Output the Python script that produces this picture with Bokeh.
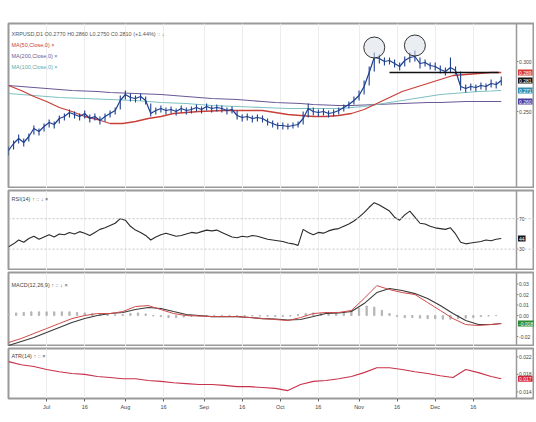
from bokeh.plotting import figure
from bokeh.layouts import column
from bokeh.models import Range1d, FixedTicker, Label, Span
from bokeh.core.properties import value
from bokeh.embed import file_html
from bokeh.resources import INLINE

# ---------------- data ----------------
bar_days = list(range(0, 196, 2))
close = [0.211, 0.218, 0.223, 0.219, 0.225, 0.233, 0.230, 0.235, 0.239, 0.237,
         0.243, 0.245, 0.249, 0.247, 0.245, 0.248, 0.243, 0.245, 0.241, 0.245,
         0.248, 0.251, 0.261, 0.267, 0.264, 0.263, 0.265, 0.261, 0.248, 0.251,
         0.253, 0.251, 0.252, 0.250, 0.253, 0.251, 0.252, 0.254, 0.252, 0.255,
         0.253, 0.254, 0.253, 0.251, 0.252, 0.246, 0.244, 0.245, 0.243, 0.244,
         0.243, 0.240, 0.238, 0.236, 0.236, 0.235, 0.236, 0.237, 0.243, 0.253,
         0.250, 0.249, 0.250, 0.248, 0.249, 0.251, 0.254, 0.257, 0.261, 0.266,
         0.275, 0.289, 0.304, 0.303, 0.300, 0.301, 0.298, 0.295, 0.301, 0.304,
         0.305, 0.298, 0.299, 0.296, 0.295, 0.292, 0.290, 0.294, 0.291, 0.275,
         0.273, 0.275, 0.274, 0.276, 0.275, 0.278, 0.277, 0.281]
high = [0.215, 0.221, 0.227, 0.223, 0.228, 0.236, 0.233, 0.238, 0.242, 0.240,
        0.246, 0.248, 0.252, 0.250, 0.248, 0.251, 0.247, 0.248, 0.245, 0.248,
        0.251, 0.254, 0.266, 0.271, 0.268, 0.266, 0.268, 0.265, 0.258, 0.254,
        0.256, 0.254, 0.255, 0.253, 0.256, 0.254, 0.255, 0.257, 0.255, 0.258,
        0.256, 0.257, 0.256, 0.254, 0.255, 0.251, 0.247, 0.248, 0.246, 0.247,
        0.246, 0.243, 0.241, 0.239, 0.239, 0.238, 0.239, 0.240, 0.250, 0.258,
        0.254, 0.252, 0.253, 0.251, 0.252, 0.254, 0.257, 0.260, 0.265, 0.271,
        0.281, 0.295, 0.309, 0.307, 0.304, 0.304, 0.302, 0.299, 0.305, 0.309,
        0.311, 0.304, 0.302, 0.299, 0.299, 0.296, 0.294, 0.304, 0.295, 0.290,
        0.277, 0.278, 0.277, 0.279, 0.278, 0.282, 0.280, 0.285]
low = [0.206, 0.212, 0.218, 0.215, 0.220, 0.227, 0.226, 0.230, 0.234, 0.233,
       0.238, 0.241, 0.244, 0.243, 0.241, 0.243, 0.239, 0.241, 0.237, 0.240,
       0.244, 0.247, 0.252, 0.262, 0.260, 0.259, 0.261, 0.257, 0.245, 0.247,
       0.249, 0.247, 0.248, 0.246, 0.249, 0.247, 0.248, 0.250, 0.248, 0.251,
       0.249, 0.250, 0.249, 0.247, 0.248, 0.242, 0.240, 0.241, 0.239, 0.240,
       0.239, 0.236, 0.234, 0.232, 0.232, 0.232, 0.233, 0.234, 0.237, 0.244,
       0.246, 0.245, 0.246, 0.244, 0.245, 0.247, 0.250, 0.253, 0.257, 0.261,
       0.267, 0.276, 0.290, 0.298, 0.296, 0.297, 0.294, 0.291, 0.295, 0.299,
       0.300, 0.293, 0.295, 0.292, 0.291, 0.288, 0.286, 0.289, 0.287, 0.271,
       0.269, 0.271, 0.270, 0.272, 0.271, 0.274, 0.273, 0.276]

ind_days = list(range(0, 191, 5)) + [194]
ma50 = [0.276, 0.271, 0.265, 0.260, 0.254, 0.250, 0.245, 0.242, 0.238, 0.238,
        0.240, 0.243, 0.245, 0.248, 0.249, 0.250, 0.2505, 0.251, 0.251, 0.251,
        0.251, 0.249, 0.247, 0.246, 0.245, 0.245, 0.246, 0.248, 0.252, 0.258,
        0.264, 0.270, 0.274, 0.278, 0.282, 0.286, 0.287, 0.288, 0.289, 0.289]
ma200 = [0.276, 0.275, 0.274, 0.273, 0.272, 0.271, 0.2705, 0.270, 0.269, 0.2685,
         0.268, 0.2675, 0.267, 0.266, 0.265, 0.264, 0.263, 0.2625, 0.262, 0.261,
         0.260, 0.259, 0.2585, 0.258, 0.257, 0.2565, 0.256, 0.256, 0.2565, 0.257,
         0.2575, 0.258, 0.2585, 0.259, 0.259, 0.2595, 0.260, 0.260, 0.260, 0.260]
ma100 = [0.268, 0.267, 0.266, 0.265, 0.264, 0.2635, 0.263, 0.2625, 0.262, 0.2615,
         0.261, 0.260, 0.259, 0.2585, 0.258, 0.257, 0.256, 0.2555, 0.255, 0.2545,
         0.254, 0.2535, 0.253, 0.253, 0.253, 0.253, 0.253, 0.254, 0.255, 0.257,
         0.259, 0.261, 0.263, 0.265, 0.267, 0.268, 0.269, 0.270, 0.2705, 0.271]

rsi = [33, 37, 42, 39, 44, 47, 43, 46, 49, 46,
       50, 49, 52, 50, 53, 51, 48, 52, 56, 58,
       61, 64, 70, 68, 60, 55, 52, 48, 42, 46,
       49, 51, 49, 47, 48, 50, 52, 51, 53, 55,
       54, 55, 52, 49, 46, 45, 47, 46, 48, 47,
       45, 43, 42, 41, 40, 38, 37, 35, 56, 52,
       49, 52, 51, 54, 56, 57, 60, 63, 67, 72,
       78, 85, 91, 88, 84, 80, 72, 68, 75, 80,
       72, 64, 63, 60, 58, 57, 56, 58, 50, 39,
       37, 38, 39, 40, 42, 41, 43, 44]

macd = [-0.0257, -0.0219, -0.0171, -0.0124, -0.0076, -0.0029, 0.0000, 0.0019, 0.0019, 0.0038,
        0.0086, 0.0095, 0.0057, 0.0019, 0.0000, -0.0005, -0.0010, -0.0010, -0.0010, -0.0019,
        -0.0029, -0.0038, -0.0048, -0.0019, 0.0019, 0.0029, 0.0029, 0.0048, 0.0162, 0.0285,
        0.0247, 0.0219, 0.0200, 0.0124, 0.0048, -0.0029, -0.0086, -0.0095, -0.0086, -0.0076]
signal = [-0.0285, -0.0247, -0.0209, -0.0162, -0.0114, -0.0067, -0.0029, 0.0000, 0.0019, 0.0029,
          0.0057, 0.0076, 0.0067, 0.0038, 0.0010, 0.0000, -0.0010, -0.0010, -0.0010, -0.0019,
          -0.0029, -0.0033, -0.0043, -0.0038, -0.0010, 0.0019, 0.0024, 0.0038, 0.0114, 0.0219,
          0.0257, 0.0238, 0.0209, 0.0162, 0.0095, 0.0019, -0.0048, -0.0086, -0.0086, -0.0076]
hist_days = list(range(0, 193, 3))
hist = [0.0020, 0.0025, 0.0030, 0.0035, 0.0035, 0.0035, 0.0035, 0.0035, 0.0035, 0.0030,
        0.0025, 0.0020, 0.0015, 0.0010, 0.0008, 0.0010, 0.0020, 0.0025, 0.0015, -0.0005,
        -0.0010, -0.0020, -0.0020, -0.0015, -0.0010, -0.0005, -0.0003, 0.0002, 0.0003, 0.0002,
        -0.0003, -0.0004, -0.0005, -0.0005, -0.0006, -0.0008, -0.0008, -0.0006, 0.0010, 0.0020,
        0.0025, 0.0020, 0.0015, 0.0020, 0.0030, 0.0050, 0.0070, 0.0090, 0.0080, 0.0050,
        0.0020, -0.0010, -0.0020, -0.0020, -0.0025, -0.0030, -0.0030, -0.0035, -0.0035, -0.0030,
        -0.0025, -0.0020, -0.0010, -0.0005, 0.0000]

atr = [0.0209, 0.0202, 0.0198, 0.0191, 0.0186, 0.0182, 0.0180, 0.0175, 0.0173, 0.0170,
       0.0170, 0.0166, 0.0164, 0.0161, 0.0159, 0.0157, 0.0157, 0.0155, 0.0152, 0.0152,
       0.0150, 0.0148, 0.0143, 0.0157, 0.0164, 0.0166, 0.0170, 0.0175, 0.0184, 0.0195,
       0.0195, 0.0191, 0.0186, 0.0182, 0.0177, 0.0173, 0.0191, 0.0184, 0.0175, 0.0170]

tick_days = [15, 30, 46, 61, 77, 92, 107, 122, 138, 153, 168, 183]
tick_labels = ["Jul", "16", "Aug", "16", "Sep", "16", "Oct", "16", "Nov", "16", "Dec", "16"]
peak_days = [144, 160]
neck_days = [150, 193]
neck_level = 0.289
price_ticks = [0.250, 0.300]
rsi_levels = [30, 70]
macd_ticks = [-0.02, 0.0, 0.01, 0.02, 0.03]
atr_ticks = [0.014, 0.018, 0.022]

header = "XRPUSD,D1  O0.2770  H0.2860  L0.2750  C0.2810  (+1.44%)   ::   \u2193"
ma_labels = ["MA(50,Close,0)  \u00d7", "MA(200,Close,0)  \u00d7", "MA(100,Close,0)  \u00d7"]

# ---------------- style ----------------
FONT = "Liberation Sans"
C_BAR = "#1d3f8f"
C_MA50 = "#c9403a"
C_MA200 = "#6a5a96"
C_MA100 = "#7fc0c4"
AX_DAY = 200            # day position of the price-scale border
FW = 526
X_RANGE = Range1d(0, FW / 2.54)


def make_fig(frame_h, y0, y1, top, bottom, bottom_axis=False):
    p = figure(frame_width=FW, frame_height=frame_h, x_range=X_RANGE,
               y_range=Range1d(y0, y1), output_backend="svg", toolbar_location=None,
               y_axis_location=None, x_axis_location="below" if bottom_axis else None,
               min_border_left=8, min_border_right=0, min_border_top=top,
               min_border_bottom=bottom, background_fill_color="white",
               border_fill_color="white")
    p.outline_line_color = "#9a9a9a"
    p.outline_line_width = 2
    p.xgrid.ticker = FixedTicker(ticks=tick_days)
    p.xgrid.grid_line_color = "#ededed"
    p.ygrid.visible = False
    p.add_layout(Span(location=AX_DAY, dimension="height", line_color="#9a9a9a",
                      line_width=1.5))
    if bottom_axis:
        xa = p.xaxis[0]
        xa.ticker = FixedTicker(ticks=tick_days)
        xa.major_label_overrides = {d: t for d, t in zip(tick_days, tick_labels)}
        xa.axis_line_color = None
        xa.major_tick_out = 3
        xa.major_tick_in = 0
        xa.major_tick_line_color = "#666"
        xa.minor_tick_line_color = None
        xa.major_label_standoff = 2
        xa.major_label_text_font_size = "5.5px"
        xa.major_label_text_font = FONT
        xa.major_label_text_color = "#444"
    return p


def add_yticks(p, ticks, labels):
    p.segment(x0=[AX_DAY] * len(ticks), y0=ticks, x1=[AX_DAY + 0.7] * len(ticks),
              y1=ticks, color="#777777", line_width=1)
    p.text(x=[AX_DAY] * len(ticks), y=ticks, text=labels, x_offset=2.5,
           text_font=value(FONT), text_font_size="5px", text_color="#444444",
           text_baseline="middle", text_align="left")


def add_tag(p, y, text, color):
    p.add_layout(Label(x=AX_DAY, y=y, x_offset=1.5, text=text, text_font=FONT,
                       text_font_size="5px", text_color="white", text_baseline="middle",
                       text_align="left", background_fill_color=color, padding=1))


def add_title(p, text, color, dy, y_top):
    p.add_layout(Label(x=X_RANGE.start, y=y_top, x_offset=3, y_offset=-dy, text=text,
                       text_font=FONT, text_font_size="5.5px", text_color=color,
                       text_baseline="middle", text_align="left"))


# ---------------- main price panel ----------------
P0, P1 = 0.173, 0.338
p1 = make_fig(165, P0, P1, 23, 0)
p1.line(ind_days, ma200, color=C_MA200, line_width=1.2)
p1.line(ind_days, ma100, color=C_MA100, line_width=1.2)
p1.line(ind_days, ma50, color=C_MA50, line_width=1.3)
p1.segment(x0=bar_days, y0=low, x1=bar_days, y1=high, color=C_BAR, line_width=1.1)
p1.line(bar_days, close, color=C_BAR, line_width=1.2)
p1.segment(x0=[neck_days[0]], y0=[neck_level], x1=[neck_days[1]], y1=[neck_level],
           color="#111111", line_width=1.5)
peak_y = [high[bar_days.index(d)] + 0.005 for d in peak_days]
p1.scatter(peak_days, peak_y, marker="circle", size=21, fill_color="#d9e0ea",
           fill_alpha=0.55, line_color="#333333", line_width=1)
add_yticks(p1, price_ticks, [f"{t:.3f}" for t in price_ticks])
add_title(p1, header, "#555555", 10, P1)
add_title(p1, ma_labels[0], C_MA50, 21, P1)
add_title(p1, ma_labels[1], C_MA200, 32, P1)
add_title(p1, ma_labels[2], "#5aaab0", 43, P1)
add_tag(p1, ma50[-1], f"{ma50[-1]:.3f}", "#d8372f")
add_tag(p1, close[-1], f"{close[-1]:.3f}", "#151515")
add_tag(p1, ma100[-1], f"{ma100[-1]:.3f}", "#2f8fb0")
add_tag(p1, ma200[-1], f"{ma200[-1]:.3f}", "#4a3c9c")

# ---------------- RSI ----------------
R0, R1 = 2, 107
p2 = make_fig(80, R0, R1, 2, 0)
for lv in rsi_levels:
    p2.add_layout(Span(location=lv, dimension="width", line_color="#c4c4c4",
                       line_width=1, line_dash="2 2"))
p2.line(bar_days, rsi, color="#2a2a2a", line_width=1.1)
add_yticks(p2, rsi_levels, [f"{t:.0f}" for t in rsi_levels])
add_title(p2, "RSI(14)   \u2191   ::   \u2193   \u00d7", "#444444", 8, R1)
add_tag(p2, rsi[-1], f"{rsi[-1]:.0f}", "#151515")

# ---------------- MACD ----------------
M0, M1 = -0.0295, 0.041
p3 = make_fig(74, M0, M1, 2, 0)
p3.vbar(x=hist_days, top=hist, bottom=0, width=0.5, color="#b5b5b5")
p3.line(ind_days, signal, color="#3a3a3a", line_width=1.1)
p3.line(ind_days, macd, color="#cf4a4a", line_width=1.0)
add_yticks(p3, macd_ticks, [f"{t:.2f}" for t in macd_ticks])
add_title(p3, "MACD(12,26,9)   \u2191   ::   \u2193   \u00d7", "#444444", 12, M1)
add_tag(p3, macd[-1], f"{macd[-1]:.3f}", "#2e8b34")

# ---------------- ATR ----------------
A0, A1 = 0.0125, 0.0239
p4 = make_fig(50, A0, A1, 2, 15, bottom_axis=True)
p4.line(ind_days, atr, color="#c8324b", line_width=1.1)
add_yticks(p4, atr_ticks, [f"{t:.3f}" for t in atr_ticks])
add_title(p4, "ATR(14)   \u2191   ::   \u00d7", "#444444", 7, A1)
add_tag(p4, atr[-1], f"{atr[-1]:.3f}", "#d0263a")

layout = column(p1, p2, p3, p4, spacing=0)
open("out.html", "w").write(file_html(layout, INLINE))
